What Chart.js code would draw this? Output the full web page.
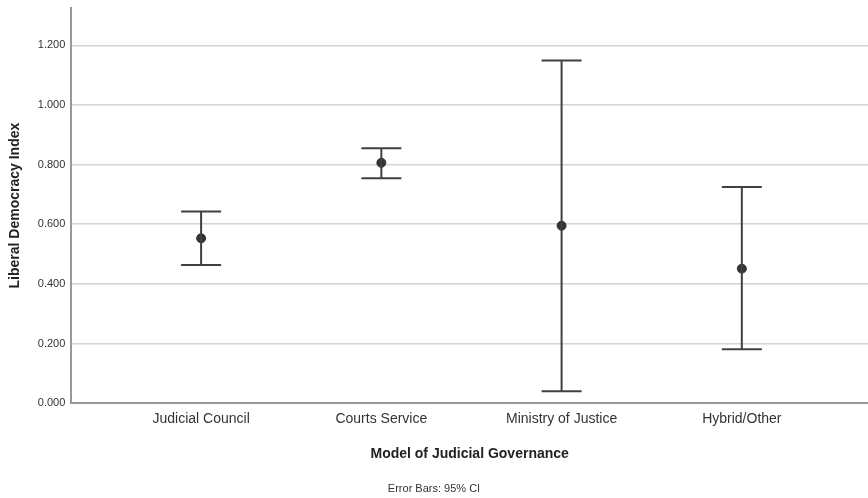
<!DOCTYPE html>
<html>
<head>
<meta charset="utf-8">
<script src="https://cdn.jsdelivr.net/npm/chart.js@4/dist/chart.umd.min.js"></script>
<style>
	html, body { margin: 0; padding: 0; background: #fff; }
	#wrap { width: 868px; height: 498px; position: relative; }
</style>
</head>
<body>
<div id="wrap"><canvas id="errChart"></canvas></div>
<script>
// =================== DATA ===================
const categories = ["Judicial Council", "Courts Service", "Ministry of Justice", "Hybrid/Other"];
const means = [0.553, 0.806, 0.595, 0.451];
const lowerCI = [0.463, 0.754, 0.040, 0.181];
const upperCI = [0.643, 0.855, 1.149, 0.725];
const yTicks = [0, 0.2, 0.4, 0.6, 0.8, 1.0, 1.2];

const FONT = "'Liberation Sans', Arial, sans-serif";
const INK = "#404040";

// =================== HELPERS ===================
function toPoints(values) {
	return values.map((v, i) => ({ x: i, y: v }));
}

// vertical whiskers: pairs of points broken by null gaps
function whiskerPoints() {
	const pts = [];
	categories.forEach((_, i) => {
		pts.push({ x: i, y: lowerCI[i] });
		pts.push({ x: i, y: upperCI[i] });
		pts.push({ x: i, y: null });
	});
	return pts;
}

// =================== CHART ===================
const ctx = document.getElementById("errChart").getContext("2d");

new Chart(ctx, {
	type: "scatter",
	data: {
		datasets: [
			{
				type: "line",
				data: whiskerPoints(),
				borderColor: INK,
				borderWidth: 2,
				pointRadius: 0,
				spanGaps: false,
				fill: false,
			},
			{
				data: toPoints(lowerCI),
				pointStyle: "line",
				pointRadius: 20,
				borderColor: INK,
				borderWidth: 2,
			},
			{
				data: toPoints(upperCI),
				pointStyle: "line",
				pointRadius: 20,
				borderColor: INK,
				borderWidth: 2,
			},
			{
				data: toPoints(means),
				pointStyle: "circle",
				pointRadius: 4.5,
				backgroundColor: "#333",
				borderColor: "#333",
				borderWidth: 1,
			},
		],
	},
	options: {
		responsive: true,
		maintainAspectRatio: false,
		animation: false,
		// autoPadding off: the 20px cap "points" would otherwise shrink the plot
		layout: { autoPadding: false, padding: { top: 8, right: 0, left: 0, bottom: 2 } },
		plugins: {
			legend: { display: false },
			tooltip: { enabled: false },
			title: { display: false },
			subtitle: {
				display: true,
				position: "bottom",
				text: "Error Bars: 95% CI",
				color: "#333",
				font: { family: FONT, size: 11 },
				padding: { top: 20, bottom: 0 },
			},
		},
		scales: {
			x: {
				type: "linear",
				min: -0.72,
				max: 3.7,
				afterBuildTicks: (scale) => {
					scale.ticks = categories.map((_, i) => ({ value: i }));
				},
				afterFit: (scale) => {
					scale.paddingLeft = 0;
					scale.paddingRight = 0;
				},
				ticks: {
					autoSkip: false,
					maxRotation: 0,
					color: "#333",
					font: { family: FONT, size: 14 },
					padding: 8,
					callback: (v) => categories[v] ?? "",
				},
				grid: { display: false, drawTicks: false },
				border: { display: true, color: "#999", width: 2 },
				title: {
					display: true,
					text: "Model of Judicial Governance",
					color: "#222",
					font: { family: FONT, size: 14, weight: "bold" },
					padding: { top: 10, bottom: 0 },
				},
			},
			y: {
				min: 0,
				max: 1.325,
				afterBuildTicks: (scale) => {
					scale.ticks = yTicks.map((v) => ({ value: v }));
				},
				afterFit: (scale) => {
					scale.paddingTop = 0;
					scale.paddingBottom = 0;
				},
				ticks: {
					color: "#333",
					font: { family: FONT, size: 11 },
					padding: 6,
					callback: (v) => Number(v).toFixed(3),
				},
				grid: { color: "#d4d4d4", lineWidth: 1.5, drawTicks: false },
				border: { display: true, color: "#999", width: 2 },
				title: {
					display: true,
					text: "Liberal Democracy Index",
					color: "#222",
					font: { family: FONT, size: 14, weight: "bold" },
					padding: { top: 7, bottom: 8 },
				},
			},
		},
	},
});
</script>
</body>
</html>
